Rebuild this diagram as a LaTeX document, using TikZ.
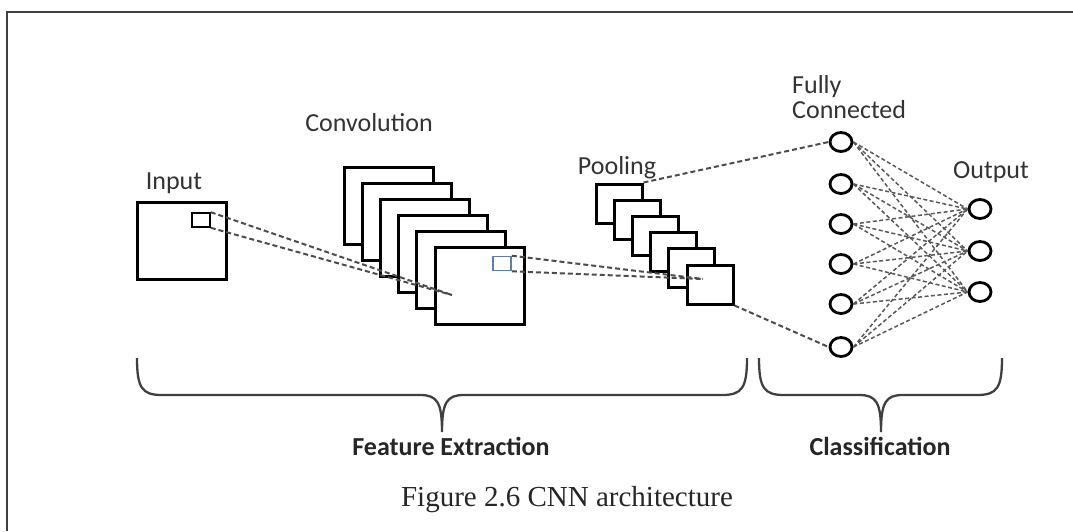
\documentclass[tikz,border=0pt]{standalone}
\usepackage{fontspec}
\setmainfont{Liberation Serif}
\newfontfamily\lblfont{Carlito}
\usetikzlibrary{shapes.geometric}
\tikzset{>=latex}
\tikzset{
  fmap/.style={draw,line width=3pt,fill=white,minimum width=89pt,minimum height=77pt,inner sep=0pt},
  pmap/.style={draw,line width=3pt,fill=white,minimum width=46pt,minimum height=39pt,inner sep=0pt},
  kwin/.style={draw,line width=1.6pt,minimum width=18pt,minimum height=14pt,inner sep=0pt},
  neuron/.style={draw,ellipse,line width=2.8pt,fill=white,minimum width=22pt,minimum height=19pt,inner sep=0pt},
  link/.style={draw=black!70,line width=2pt,dash pattern=on 5pt off 3pt},
  mesh/.style={draw=black!65,line width=1.5pt,dash pattern=on 4pt off 2.5pt},
  brace/.style={draw=black!75,line width=2.3pt},
  lbl/.style={font=\lblfont\fontsize{26}{25}\selectfont,text=black!80,inner sep=0pt},
  grp/.style={font=\lblfont\bfseries\fontsize{26}{30}\selectfont,text=black!85,inner sep=0pt},
}
\definecolor{winblue}{RGB}{92,128,168}

\begin{document}
\begin{tikzpicture}[x=1pt,y=-1pt]
  \useasboundingbox (0,0) rectangle (1073,531);
  % page frame, cut off on the right and at the bottom
  \draw[line width=2pt,black!75] (6.5,531) -- (6.5,12) -- (1073,12);

  % input image
  \node[draw,line width=3pt,minimum width=89pt,minimum height=77pt,inner sep=0pt] (input) at (181.5,240.5) {};
  \node[kwin] (inwin) at (201,220) {};
  \node[lbl,anchor=base] (inlbl) at (174,189) {Input};

  % convolution maps
  \foreach \i in {0,...,5}
    \node[fmap] (conv\i) at (388.5+18.2*\i,205.5+16*\i) {};
  \node[kwin,draw=winblue] (cwin) at (502,263.5) {};
  \node[lbl,anchor=base] (convlbl) at (369,131) {Convolution};
  \coordinate (convpt) at (452,295);
  \draw[link] (inwin.north east) -- (convpt);
  \draw[link] (inwin.south east) -- (convpt);

  % pooling maps
  \foreach \i in {0,...,5}
    \node[pmap] (pool\i) at (619+18.2*\i,203.5+16.2*\i) {};
  \node[lbl,anchor=base] (poollbl) at (617,174) {Pooling};
  \coordinate (poolpt) at (703,279);
  \draw[link] (cwin.north east) -- (poolpt);
  \draw[link] (cwin.south east) -- (poolpt);

  % fully connected and output layers
  \foreach \j/\y in {1/142,2/184,3/224,4/264,5/304,6/347}
    \node[neuron] (fc\j) at (841,\y) {};
  \foreach \k/\y in {1/209,2/251,3/292}
    \node[neuron] (out\k) at (980,\y) {};
  \foreach \j in {1,...,6}
    \foreach \k in {1,2,3}
      \draw[mesh] (fc\j.east) -- (out\k.west);
  \draw[link] (pool0.north east) -- (fc1.west);
  \draw[link] (pool5.south east) -- (fc6.west);
  \node[lbl,anchor=base west,align=left] (fclbl) at (792,118) {Fully\\Connected};
  \node[lbl,anchor=base] (outlbl) at (991,178) {Output};

  % braces
  \draw[brace] (137,358) .. controls (137,388) and (142,395) .. (162,395) -- (420,395)
    .. controls (437,395) and (442,402) .. (442,432)
    .. controls (442,402) and (447,395) .. (464,395) -- (722,395)
    .. controls (742,395) and (747,388) .. (747,358);
  \draw[brace] (759,358) .. controls (759,388) and (764,395) .. (784,395) -- (859,395)
    .. controls (876,395) and (881,402) .. (881,432)
    .. controls (881,402) and (886,395) .. (903,395) -- (977,395)
    .. controls (997,395) and (1002,388) .. (1002,358);
  \node[grp,anchor=base] (felbl) at (451,455) {Feature Extraction};
  \node[grp,anchor=base] (clslbl) at (880,455) {Classification};

  % caption
  \node[anchor=base,inner sep=0pt,font=\fontsize{29}{34}\selectfont,text=black!85] (caption) at (567,506) {Figure 2.6 CNN architecture};
\end{tikzpicture}
\end{document}
